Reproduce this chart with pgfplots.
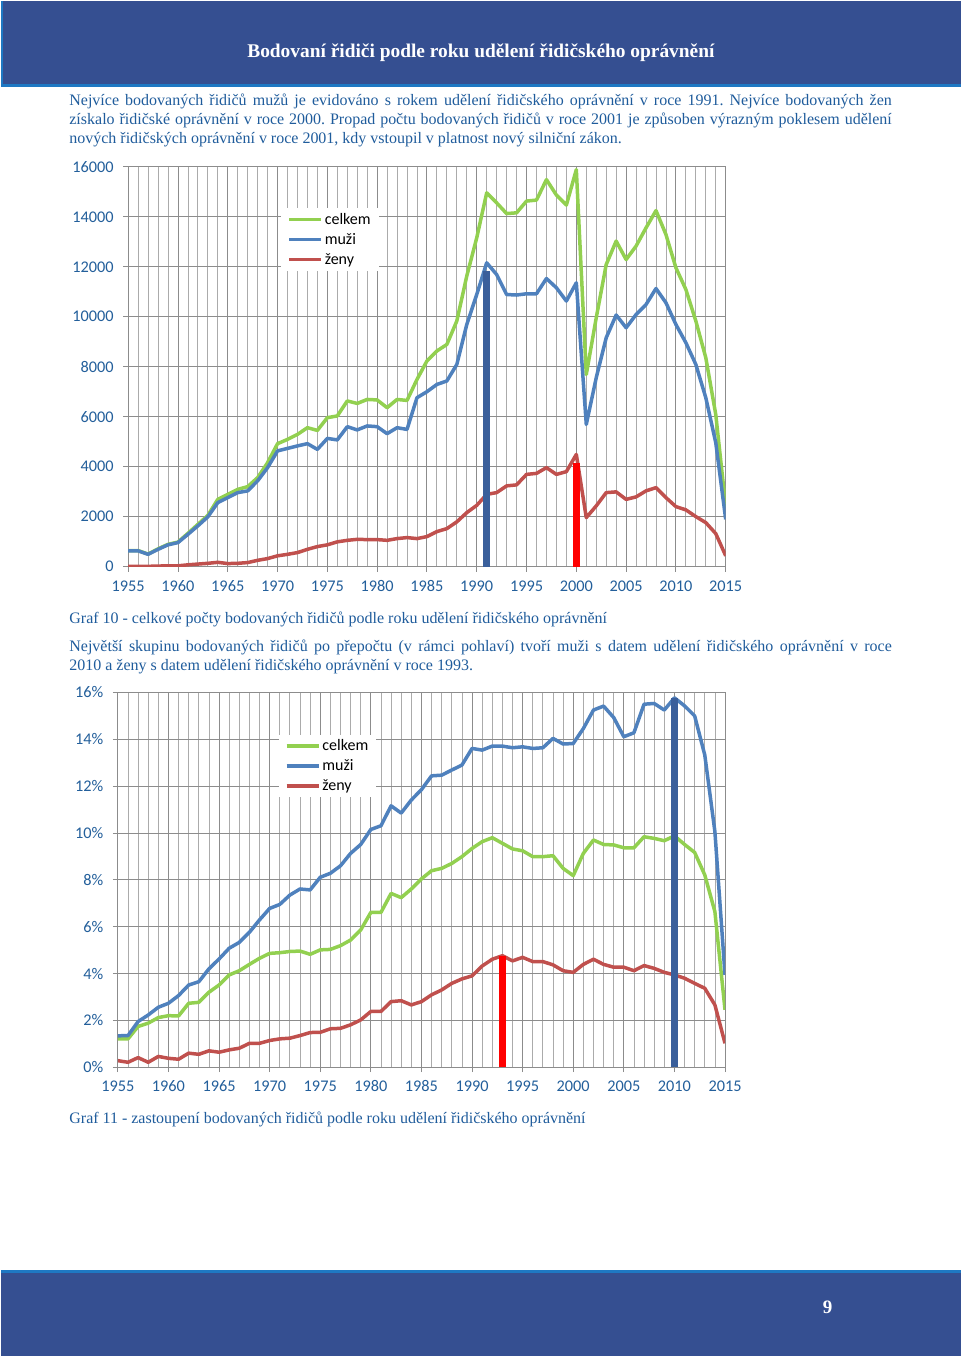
\documentclass[border=0pt]{standalone}
\usepackage{pgfplots}
\usepackage{pgfplotstable}
\pgfplotsset{compat=1.18}
\usepackage{fontspec}
\setmainfont{Liberation Serif}
\newfontfamily\carlito{Carlito}
\definecolor{hdr}{RGB}{53,79,145}
\definecolor{hdrline}{RGB}{30,120,195}
\definecolor{txt}{RGB}{31,92,156}
\definecolor{tick}{RGB}{35,95,155}
\definecolor{cgreen}{RGB}{146,208,80}
\definecolor{cblue}{RGB}{79,129,189}
\definecolor{cred}{RGB}{192,80,77}
\definecolor{barblue}{RGB}{58,95,155}
\definecolor{barred}{RGB}{255,0,0}

\pgfplotstableread{
year celkem muzi zeny
1955 640 630 10
1956 640 630 10
1957 500 490 10
1958 710 690 20
1959 890 870 30
1960 980 960 30
1961 1330 1290 70
1962 1690 1630 100
1963 2050 1990 130
1964 2690 2560 170
1965 2890 2760 120
1966 3090 2960 130
1967 3200 3030 160
1968 3560 3430 250
1969 4160 3960 320
1970 4920 4630 430
1971 5090 4730 490
1972 5290 4830 560
1973 5560 4920 690
1974 5450 4690 800
1975 5960 5130 870
1976 6030 5070 990
1977 6630 5600 1050
1978 6530 5470 1090
1979 6690 5630 1080
1980 6670 5600 1080
1981 6360 5320 1050
1982 6690 5560 1120
1983 6650 5490 1160
1984 7490 6760 1120
1985 8230 7000 1200
1986 8630 7290 1400
1987 8890 7430 1520
1988 9830 8090 1790
1989 11630 9690 2160
1990 13160 10890 2450
1991 14960 12160 2890
1992 14560 11690 2960
1993 14130 10890 3230
1994 14160 10870 3270
1995 14630 10920 3690
1996 14670 10920 3730
1997 15490 11530 3960
1998 14870 11160 3690
1999 14470 10630 3800
2000 15890 11360 4490
2001 7690 5690 1960
2002 9960 7560 2430
2003 12090 9160 2960
2004 13030 10070 2990
2005 12290 9560 2690
2006 12830 10090 2790
2007 13560 10490 3030
2008 14250 11130 3160
2009 13290 10560 2760
2010 11960 9690 2400
2011 11090 8960 2270
2012 9830 8090 2000
2013 8360 6760 1760
2014 6090 4960 1320
2015 2400 1890 430
}\dataA

\pgfplotstableread{
year celkem muzi zeny
1955 1.21 1.34 0.28
1956 1.21 1.35 0.21
1957 1.74 1.95 0.41
1958 1.88 2.23 0.21
1959 2.12 2.56 0.46
1960 2.20 2.73 0.38
1961 2.19 3.06 0.34
1962 2.73 3.51 0.60
1963 2.77 3.65 0.55
1964 3.20 4.20 0.70
1965 3.51 4.62 0.64
1966 3.94 5.08 0.74
1967 4.12 5.33 0.81
1968 4.39 5.76 1.02
1969 4.65 6.29 1.02
1970 4.86 6.78 1.14
1971 4.89 6.95 1.21
1972 4.94 7.35 1.24
1973 4.96 7.61 1.35
1974 4.82 7.57 1.48
1975 5.01 8.11 1.49
1976 5.03 8.28 1.64
1977 5.19 8.60 1.66
1978 5.43 9.13 1.81
1979 5.86 9.51 2.02
1980 6.61 10.15 2.38
1981 6.61 10.31 2.38
1982 7.42 11.16 2.80
1983 7.24 10.85 2.84
1984 7.61 11.41 2.66
1985 8.04 11.85 2.80
1986 8.39 12.44 3.09
1987 8.49 12.47 3.30
1988 8.70 12.69 3.58
1989 8.99 12.90 3.77
1990 9.34 13.61 3.90
1991 9.63 13.54 4.32
1992 9.80 13.71 4.61
1993 9.56 13.71 4.76
1994 9.32 13.64 4.54
1995 9.24 13.68 4.69
1996 8.99 13.61 4.51
1997 8.99 13.64 4.51
1998 9.03 14.04 4.37
1999 8.49 13.80 4.12
2000 8.18 13.82 4.05
2001 9.13 14.46 4.39
2002 9.70 15.25 4.61
2003 9.51 15.42 4.39
2004 9.49 14.93 4.27
2005 9.37 14.11 4.27
2006 9.37 14.28 4.12
2007 9.84 15.50 4.34
2008 9.77 15.53 4.22
2009 9.67 15.25 4.05
2010 9.88 15.77 3.94
2011 9.51 15.43 3.80
2012 9.17 15.00 3.58
2013 8.21 13.33 3.37
2014 6.64 10.06 2.66
2015 2.45 3.94 1.02
}\dataB

\pgfplotsset{
  pagechart/.style={
    scale only axis,
    anchor=south west,
    xmin=1955, xmax=2015,
    xtick={1955,1960,...,2015},
    minor x tick num=4,
    grid=both,
    major grid style={draw=black!45, line width=0.9pt},
    minor grid style={draw=black!33, line width=0.8pt},
    axis lines*=left,
    axis line style={draw=black!45, line width=0.9pt},
    tick align=outside,
    major tick length=5pt,
    minor tick length=0pt,
    tick style={draw=black!45, line width=0.9pt},
    scaled y ticks=false,
    ticklabel style={font=\carlito\fontsize{16.3}{19}\selectfont, text=tick},
    xticklabel style={anchor=north, text height=11pt, text depth=0pt, yshift=-5pt},
    yticklabel style={xshift=-6pt},
    /pgf/number format/assume math mode=true,
    /pgf/number format/1000 sep={},
    legend cell align=left,
    legend image code/.code={\draw[##1, line width=3.5pt] (0pt,0pt)--(32pt,0pt);},
    legend style={draw=none, fill=white, anchor=north west,
      font=\carlito\fontsize{16}{19}\selectfont, inner xsep=6pt, inner ysep=3pt,
      row sep=3.6pt},
    every axis plot/.append style={line width=3.5pt, line join=round},
  }
}

\begin{document}
\frenchspacing
\begin{tikzpicture}[x=1pt,y=1pt]
% page
\fill[white] (0,0) rectangle (960,1356);
% header
\fill[hdr] (0,1271) rectangle (960,1356);
\draw[hdrline, line width=2.5pt] (0,1271.5) -- (960,1271.5);
\draw[hdrline, line width=2pt] (1,1271) -- (1,1356);
\node[anchor=base, text=white, font=\fontsize{19.4}{23}\selectfont\bfseries] at (480,1299) {Bodovaní řidiči podle roku udělení řidičského oprávnění};
% footer
\fill[hdr] (0,0) rectangle (960,85);
\draw[hdrline, line width=2.5pt] (0,84.5) -- (960,84.5);
\node[anchor=base, text=white, font=\fontsize{19}{22}\selectfont\bfseries] at (827,43) {9};

% paragraphs and captions
\begin{scope}[every node/.style={anchor=base west, inner sep=0pt, text=txt, font=\fontsize{16}{19}\selectfont}]
\node at (68,1251) {\makebox[823pt][s]{Nejvíce bodovaných řidičů mužů je evidováno s rokem udělení řidičského oprávnění v roce 1991. Nejvíce bodovaných žen}};
\node at (68,1232) {\makebox[823pt][s]{získalo řidičské oprávnění v roce 2000. Propad počtu bodovaných řidičů v roce 2001 je způsoben výrazným poklesem udělení}};
\node at (68,1213) {nových řidičských oprávnění v roce 2001, kdy vstoupil v platnost nový silniční zákon.};
\node at (68,733) {Graf 10 - celkové počty bodovaných řidičů podle roku udělení řidičského oprávnění};
\node at (68,705) {\makebox[823pt][s]{Největší skupinu bodovaných řidičů po přepočtu (v rámci pohlaví) tvoří muži s datem udělení řidičského oprávnění v roce}};
\node at (68,686) {2010 a ženy s datem udělení řidičského oprávnění v roce 1993.};
\node at (68,233) {Graf 11 - zastoupení bodovaných řidičů podle roku udělení řidičského oprávnění};
\end{scope}

% chart 1
\begin{axis}[pagechart,
  at={(127pt,790pt)}, width=598pt, height=400pt,
  ymin=0, ymax=16000, ytick={0,2000,...,16000},
  legend style={at={(0.256,0.897)}},
]
\addplot[cgreen] table[x=year,y=celkem]{\dataA};
\addlegendentry{celkem}
\addplot[cblue] table[x=year,y=muzi]{\dataA};
\addlegendentry{muži}
\addplot[cred] table[x=year,y=zeny]{\dataA};
\addlegendentry{ženy}
\addplot[forget plot, ycomb, barblue, line width=7pt, line cap=butt] coordinates {(1991,11850)};
\addplot[forget plot, ycomb, barred, line width=7pt, line cap=butt] coordinates {(2000,4160)};
\end{axis}

% chart 2
\begin{axis}[pagechart,
  at={(116.7pt,289pt)}, width=607.6pt, height=375pt,
  ymin=0, ymax=16, ytick={0,2,...,16},
  yticklabel={\pgfmathprintnumber{\tick}\%},
  legend style={at={(0.265,0.888)}},
]
\addplot[cgreen] table[x=year,y=celkem]{\dataB};
\addlegendentry{celkem}
\addplot[cblue] table[x=year,y=muzi]{\dataB};
\addlegendentry{muži}
\addplot[cred] table[x=year,y=zeny]{\dataB};
\addlegendentry{ženy}
\addplot[forget plot, ycomb, barred, line width=7pt, line cap=butt] coordinates {(1993,4.76)};
\addplot[forget plot, ycomb, barblue, line width=7pt, line cap=butt] coordinates {(2010,15.77)};
\end{axis}
\end{tikzpicture}
\end{document}
